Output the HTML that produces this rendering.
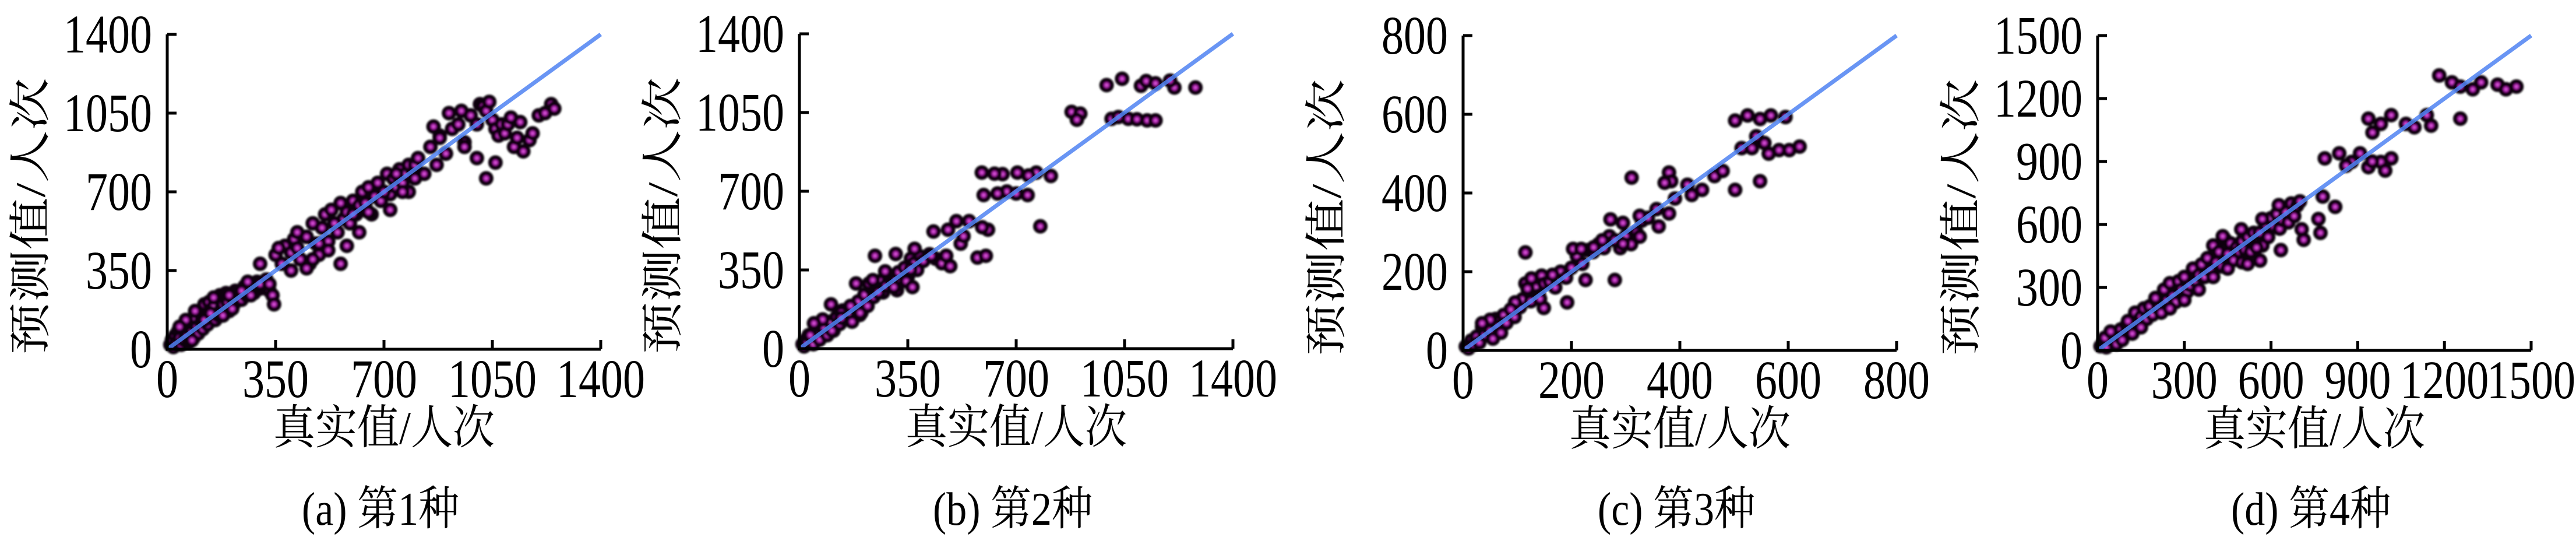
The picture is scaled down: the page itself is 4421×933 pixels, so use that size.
<!DOCTYPE html>
<html><head><meta charset="utf-8">
<style>
html,body{margin:0;padding:0;background:#fff;}
svg{display:block;}
.tk{font-family:"Liberation Serif","Noto Serif CJK SC",serif;font-size:76px;fill:#000;}
.ttl{font-family:"Liberation Serif","Noto Serif CJK SC",serif;font-size:72px;fill:#000;}
.cap{font-family:"Liberation Serif","Noto Serif CJK SC",serif;font-size:70px;fill:#000;}
</style></head>
<body>
<svg id="chart" xmlns="http://www.w3.org/2000/svg" width="4421" height="933" viewBox="0 0 4421 933">
<defs>
<radialGradient id="dot" cx="50%" cy="50%" r="50%">
<stop offset="0%" stop-color="#f070f0"/><stop offset="45%" stop-color="#a018a0"/><stop offset="100%" stop-color="#100010"/>
</radialGradient>
<filter id="bl"><feGaussianBlur stdDeviation="1.5"/></filter>
</defs>
</svg>
<script>
// ---- data ----
const aX=[10,15,20,25,30,35,40,45,50,55,60,65,70,75,80,85,90,95,100,105,110,115,120,125,130,135,140,150,155,160,165,170,175,180,185,190,195,200,210,215,220,230,240,250,255,260,270,280,290,300,310,320,330,340,345,60,90,120,150,180,210,240,270,300,330,40,80,140,200,260,
350,370,380,400,410,420,430,450,460,470,480,490,500,510,520,530,540,550,560,570,580,590,600,610,620,630,640,650,660,670,680,690,700,710,720,730,740,750,760,770,780,790,800,400,450,470,490,520,560,580,600,620,650,700,720,740,760,780,800,300,360,420,
810,830,850,870,880,900,910,920,940,950,960,980,1000,1010,1020,1030,1040,1050,1060,1070,1080,1090,1100,1110,1120,1130,1140,1150,1170,1180,1200,1220,1240,1250,1000,960,900,880,860,1030,1060];
const aY=[20,40,10,60,30,80,50,20,90,40,110,60,30,120,80,50,140,100,70,160,120,90,200,150,110,210,170,190,130,230,150,240,180,200,160,250,210,170,230,200,260,250,220,280,240,270,290,250,300,270,280,310,260,240,200,130,170,130,230,150,180,260,240,290,290,100,40,160,240,300,
420,380,460,430,490,450,400,500,380,560,470,420,540,600,480,620,560,520,650,580,610,560,660,600,640,700,650,720,600,680,740,660,700,780,690,760,720,800,740,780,700,800,760,350,360,400,470,440,380,460,600,520,610,700,620,780,700,820,820,380,450,520,
850,780,900,820,950,870,1050,980,1000,1060,920,1040,1000,1090,1080,1060,1100,1020,980,950,1000,960,1000,1030,900,940,1010,880,930,960,1040,1050,1090,1070,850,900,870,940,990,760,830];

const bX=[10,15,20,25,30,40,45,50,60,65,70,80,90,100,110,120,130,140,150,160,170,180,190,200,210,220,230,240,250,260,270,280,290,300,310,320,330,340,350,360,370,380,390,400,420,440,460,35,75,105,135,165,195,225,255,285,315,345,
992,1042,1103,1211,1279,1197,1120,1150,879,907,896,1008,1062,1123,1150,1030,1090,
589,656,704,765,812,630,740,595,670,737,778,640,700,
507,548,609,521,575,602,433,480,530,590,
244,311,372,426,474,359,487,
183,237,305,365,277,102,135,196,47];
const bY=[20,10,40,30,60,50,20,80,70,40,100,90,60,120,80,140,110,170,130,150,120,180,210,160,240,190,270,230,260,300,250,280,320,290,310,340,300,360,320,400,380,350,410,390,420,400,380,60,130,80,160,190,150,290,250,330,260,300,
1172,1200,1169,1161,1161,1192,1190,1180,1053,1045,1018,1022,1022,1015,1015,1030,1020,
783,776,783,783,768,778,770,683,699,683,544,690,690,
567,567,529,467,405,413,521,529,500,540,
413,421,444,413,413,352,367,
290,305,274,274,344,197,136,159,113];

const cX=[5,10,15,20,25,30,35,40,45,50,55,60,65,70,75,80,90,95,100,105,110,115,120,125,130,135,140,145,150,160,170,180,190,200,210,220,230,240,250,260,270,280,290,300,310,320,330,
502,525,548,568,595,514,533,556,564,583,602,621,541,548,502,464,479,441,414,422,380,384,391,372,311,357,341,380,361,326,272,295,326,295,257,241,203,218,115,280,226,192,149,126,165,119,142,96,88,50,35];
const cY=[10,5,25,15,35,20,60,40,70,50,30,80,60,45,90,70,100,85,120,110,130,170,150,125,180,160,140,190,170,175,160,200,185,210,240,220,255,250,270,260,290,280,260,290,270,300,330,
584,597,588,597,593,514,514,527,500,509,509,518,544,430,408,443,456,408,421,395,452,430,386,426,439,359,337,348,315,342,333,324,289,271,280,262,258,258,249,179,179,122,108,183,192,157,131,122,104,78,69];

const dX=[10,20,30,40,50,60,70,80,90,100,110,120,130,140,150,160,170,180,190,200,210,220,230,240,250,260,270,280,290,300,310,320,330,340,350,360,370,380,390,400,410,420,430,440,450,460,470,480,490,500,510,520,530,540,550,560,570,580,590,600,610,620,630,640,650,660,670,680,690,700,25,45,65,85,105,150,200,250,300,350,400,450,500,550,
1182,1226,1255,1298,1327,1384,1413,1449,1255,937,951,980,1016,1067,1096,1139,1154,
786,836,879,908,937,980,995,1016,860,950,
779,822,764,771,706,713,627,570,634,497,519,562,433];
const dY=[20,40,15,70,50,80,40,100,70,120,90,80,180,130,160,200,150,210,170,240,200,180,290,240,320,260,230,330,290,350,280,310,390,330,360,410,350,440,380,500,420,470,400,530,460,510,430,490,470,520,480,540,470,560,510,560,500,600,540,630,590,650,580,620,660,610,700,640,690,710,60,90,30,50,140,110,250,200,240,290,350,390,420,490,
1310,1277,1257,1244,1277,1266,1244,1257,1104,1104,1038,1079,1121,1079,1063,1121,1071,
915,939,898,939,873,898,857,915,880,900,
733,684,626,560,577,527,692,626,478,577,412,428,544];

const aTicks=[0,350,700,1050,1400];
const bTicks=[0,350,700,1050,1400];
const cTicks=[0,200,400,600,800];
const dTicks=[0,300,600,900,1200,1500];
const captions=["(a) 第1种","(b) 第2种","(c) 第3种","(d) 第4种"];

// ---- layout ----
const NS="http://www.w3.org/2000/svg";
const svg=document.getElementById('chart');
function mk(tag,attrs,parent){const e=document.createElementNS(NS,tag);for(const k in attrs)e.setAttribute(k,attrs[k]);(parent||svg).appendChild(e);return e;}
const panels=[
 {x0:287,y0:599,xs:aX,ys:aY,ticks:aTicks,id:'a'},
 {x0:1372,y0:598,xs:bX,ys:bY,ticks:bTicks,id:'b'},
 {x0:2511,y0:601,xs:cX,ys:cY,ticks:cTicks,id:'c'},
 {x0:3600,y0:601,xs:dX,ys:dY,ticks:dTicks,id:'d'}];
const W=744,H=540;
panels.forEach((p,pi)=>{
 const g=mk('g',{});
 
 
 const max=p.ticks[p.ticks.length-1];
 const sx=v=>p.x0+v/max*W, sy=v=>p.y0-v/max*H;
 const pg=mk('g',{filter:'url(#bl)'},g);
 
 
 for(let i=0;i<p.xs.length;i++){
  const c=mk('circle',{cx:sx(p.xs[i]),cy:sy(p.ys[i]),r:9,fill:'url(#dot)',stroke:'#080008','stroke-width':7},pg);
  
  
 }
 const ln=mk('line',{x1:sx(0),y1:sy(0),x2:sx(max),y2:sy(max),stroke:'#4f82f2','stroke-width':7,'stroke-opacity':0.85},g);
 
 
 const ax=mk('path',{d:`M${p.x0} ${p.y0-H}V${p.y0}H${p.x0+W}`,fill:'none',stroke:'#000','stroke-width':5},g);
 
 
 p.ticks.forEach(t=>{
  if(t>0){
   mk('line',{x1:sx(t),y1:p.y0,x2:sx(t),y2:p.y0-16,stroke:'#000','stroke-width':5},g);
   mk('line',{x1:p.x0,y1:sy(t),x2:p.x0+16,y2:sy(t),stroke:'#000','stroke-width':5},g);
  }
  const xl=mk('text',{x:0,y:0,'text-anchor':'middle',class:'tk',transform:`translate(${sx(t)},${p.y0+82}) scale(1,1.22)`},g);
  xl.textContent=t;
  
  
  const yl=mk('text',{x:0,y:0,'text-anchor':'end',class:'tk',transform:`translate(${p.x0-26},${sy(t)+31}) scale(1,1.22)`},g);
  yl.textContent=t;
  
  
 });
 const xt=mk('text',{x:0,y:0,'text-anchor':'middle',class:'ttl',transform:`translate(${p.x0+W/2},${p.y0+162}) scale(1,1.12)`},g);
 xt.textContent='真实值/人次';
 
 
 const yt=mk('text',{x:0,y:0,'text-anchor':'middle',class:'ttl',transform:`translate(${p.x0-210},${p.y0-228}) rotate(-90) scale(1.25,1)`},g);
 yt.textContent='预测值/人次';
 
 
 const cp=mk('text',{x:0,y:0,'text-anchor':'middle',class:'cap',transform:`translate(${p.x0+W/2-6},${900}) scale(1,1.15)`},g);
 cp.textContent=captions[pi];
 
 
});
</script>
</body></html>
